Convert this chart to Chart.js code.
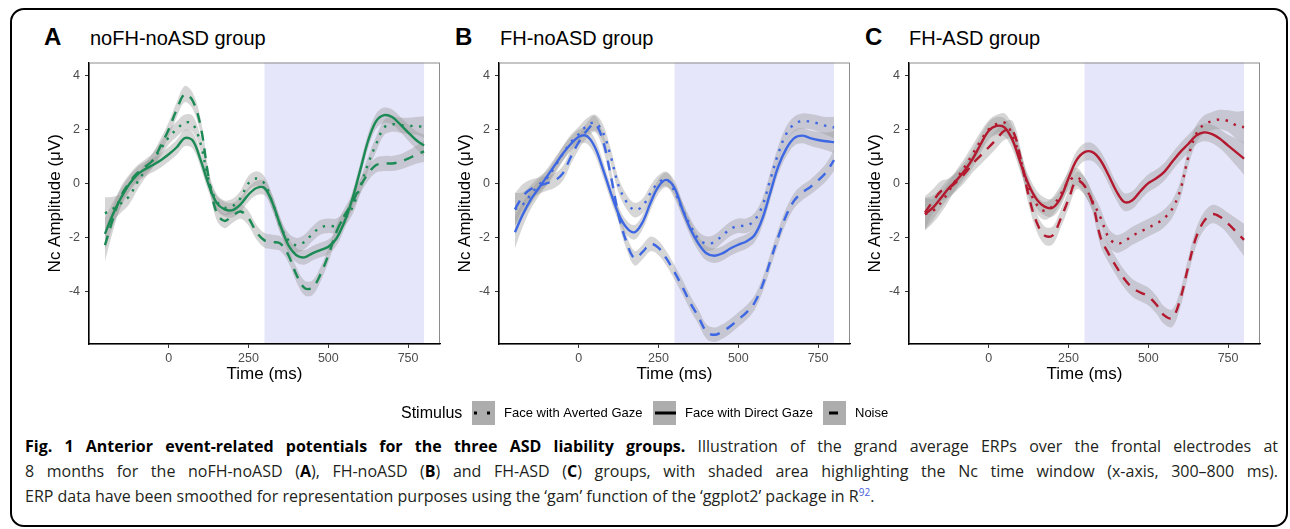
<!DOCTYPE html>
<html>
<head>
<meta charset="utf-8">
<script src="https://cdn.jsdelivr.net/npm/chart.js@4.4.1/dist/chart.umd.min.js"></script>
<style>
  html, body { margin: 0; padding: 0; background: #fff; }
  body { width: 1290px; height: 529px; position: relative; overflow: hidden;
         font-family: 'Liberation Sans', Arial, sans-serif; }
  .frame { position: absolute; left: 10px; top: 8px; width: 1278px; height: 519px;
           border: 2.5px solid #000; border-radius: 14px; box-sizing: border-box; }
  canvas { position: absolute; }
  .tag { position: absolute; top: 25px; font-size: 24px; line-height: 24px; font-weight: bold; }
  .ttl { position: absolute; top: 28px; font-size: 20px; line-height: 20px; }
  .cap { position: absolute; left: 25px; font-family: 'Open Sans', sans-serif; font-size: 16px;
         line-height: 25px; white-space: nowrap; color: #231f20; }
  .cap b { color: #000; }
  .cap sup { color: #4a5fe0; font-size: 10px; line-height: 0; }
</style>
</head>
<body>
<div class="frame"></div>

<div class="tag" style="left:44px">A</div><div class="ttl" style="left:90px">noFH-noASD group</div>
<div class="tag" style="left:455px">B</div><div class="ttl" style="left:500px">FH-noASD group</div>
<div class="tag" style="left:865px">C</div><div class="ttl" style="left:909px">FH-ASD group</div>

<canvas id="panelA" width="399" height="335" style="left:45px;top:50px"></canvas>
<canvas id="panelB" width="399" height="335" style="left:455px;top:50px"></canvas>
<canvas id="panelC" width="399" height="335" style="left:865px;top:50px"></canvas>
<canvas id="legend" width="520" height="36" style="left:390px;top:395px"></canvas>

<div class="cap just" style="top:434px"><b>Fig. 1 Anterior event-related potentials for the three ASD liability groups.</b> Illustration of the grand average ERPs over the frontal electrodes at</div>
<div class="cap just" style="top:459px">8 months for the noFH-noASD (<b>A</b>), FH-noASD (<b>B</b>) and FH-ASD (<b>C</b>) groups, with shaded area highlighting the Nc time window (x-axis, 300–800 ms).</div>
<div class="cap" style="top:484px">ERP data have been smoothed for representation purposes using the ‘gam’ function of the ‘ggplot2’ package in R<sup>92</sup>.</div>

<script>
// time points (ms), read every 25 ms off the figure
const times = [-200, -175, -150, -125, -100, -75, -50, -25, 0, 25, 50, 75, 100, 125, 150, 175, 200,
  225, 250, 275, 300, 325, 350, 375, 400, 425, 450, 475, 500, 525, 550, 575, 600, 625, 650, 675,
  700, 725, 750, 775, 800];

const xTicks = [0, 250, 500, 750];
const yTicks = [-4, -2, 0, 2, 4];
const ncWindow = [300, 800];
const stimuli = ['Face with Averted Gaze', 'Face with Direct Gaze', 'Noise'];

// noFH-noASD
const avertedA = [-1.12, -0.95, -0.75, -0.5, 0.0, 0.45, 0.85, 1.27, 1.7, 2.0, 2.24, 2.2, 1.45, 0.12,
  -0.67, -0.91, -0.85, -0.55, 0.0, 0.17, -0.02, -0.73, -1.58, -2.12, -2.3, -2.18, -1.88, -1.64,
  -1.58, -1.58, -1.33, -0.91, -0.12, 0.73, 1.45, 2.06, 2.18, 2.15, 2.12, 2.12, 2.08];
const directA = [-1.88, -1.15, -0.55, -0.06, 0.3, 0.51, 0.67, 0.85, 1.07, 1.33, 1.67, 1.58, 0.85,
  -0.06, -0.73, -0.97, -1.0, -0.79, -0.42, -0.18, -0.18, -0.73, -1.58, -2.3, -2.67, -2.75, -2.6,
  -2.48, -2.36, -2.06, -1.45, -0.6, 0.48, 1.58, 2.3, 2.52, 2.45, 2.18, 1.88, 1.6, 1.39];
const noiseA = [-2.3, -1.33, -0.48, 0.0, 0.36, 0.6, 0.85, 1.39, 2.0, 2.73, 3.3, 3.05, 2.1, 0.2,
  -1.1, -1.4, -1.2, -1.05, -1.3, -1.82, -2.12, -2.18, -2.24, -2.67, -3.39, -3.88, -3.88, -3.39,
  -2.67, -1.82, -1.21, -0.73, -0.12, 0.36, 0.67, 0.73, 0.73, 0.79, 0.91, 1.05, 1.18];
const seA = [0.6, 0.45, 0.35, 0.3, 0.28, 0.27, 0.27, 0.27, 0.27, 0.28, 0.3, 0.3, 0.28, 0.27, 0.27,
  0.27, 0.27, 0.27, 0.27, 0.27, 0.27, 0.27, 0.27, 0.27, 0.27, 0.27, 0.27, 0.27, 0.27, 0.27, 0.27,
  0.27, 0.27, 0.27, 0.28, 0.28, 0.28, 0.28, 0.3, 0.33, 0.4];

// FH-noASD
const avertedB = [-0.97, -0.79, -0.42, -0.06, 0.18, 0.61, 1.09, 1.52, 1.82, 2.12, 2.24, 1.9, 1.0,
  -0.1, -0.7, -1.0, -0.85, -0.36, 0.02, 0.15, -0.3, -0.97, -1.58, -2.06, -2.24, -2.18, -1.94, -1.7,
  -1.58, -1.58, -1.39, -0.85, 0.12, 1.09, 1.82, 2.18, 2.3, 2.28, 2.21, 2.12, 2.06];
const directB = [-1.82, -1.15, -0.6, -0.18, 0.24, 0.67, 1.09, 1.45, 1.72, 1.75, 1.35, 0.55, -0.35,
  -1.15, -1.65, -1.82, -1.45, -0.73, -0.12, 0.12, -0.18, -0.97, -1.7, -2.24, -2.6, -2.69, -2.6,
  -2.42, -2.28, -2.16, -1.94, -1.33, -0.36, 0.61, 1.27, 1.67, 1.76, 1.67, 1.6, 1.55, 1.52];
const noiseB = [-0.97, -0.48, -0.22, -0.1, 0.0, 0.1, 0.36, 0.97, 1.52, 1.94, 2.2, 1.6, 0.3, -1.2,
  -2.2, -2.78, -2.55, -2.25, -2.4, -2.8, -3.3, -3.85, -4.45, -4.95, -5.5, -5.62, -5.5, -5.3, -5.05,
  -4.8, -4.45, -3.8, -2.9, -2.0, -1.2, -0.65, -0.35, -0.15, 0.1, 0.4, 0.85];
const seB = [0.6, 0.45, 0.35, 0.3, 0.28, 0.27, 0.27, 0.27, 0.27, 0.28, 0.3, 0.3, 0.28, 0.27, 0.27,
  0.27, 0.27, 0.27, 0.27, 0.27, 0.27, 0.27, 0.27, 0.27, 0.27, 0.27, 0.27, 0.27, 0.27, 0.27, 0.27,
  0.27, 0.27, 0.27, 0.28, 0.28, 0.28, 0.28, 0.3, 0.33, 0.4];

// FH-ASD
const avertedC = [-1.15, -1.03, -0.73, -0.3, 0.18, 0.61, 1.09, 1.58, 2.0, 2.2, 2.24, 1.76, 0.85,
  -0.18, -0.79, -1.03, -0.85, -0.42, 0.06, 0.24, -0.1, -0.67, -1.27, -2.0, -2.25, -2.15, -1.95,
  -1.8, -1.65, -1.5, -1.3, -0.95, -0.27, 0.95, 1.82, 2.18, 2.3, 2.36, 2.3, 2.15, 2.07];
const directC = [-1.15, -0.91, -0.55, -0.18, 0.12, 0.48, 0.91, 1.45, 1.94, 2.12, 2.06, 1.58, 0.73,
  -0.06, -0.6, -0.87, -0.91, -0.55, 0.18, 0.85, 1.15, 1.15, 0.85, 0.3, -0.3, -0.7, -0.63, -0.3,
  0.0, 0.18, 0.42, 0.79, 1.15, 1.45, 1.76, 1.88, 1.82, 1.64, 1.39, 1.15, 0.91];
const noiseC = [-1.09, -0.67, -0.3, -0.18, 0.06, 0.36, 0.73, 1.03, 1.33, 1.64, 1.95, 1.95, 0.9,
  -0.48, -1.45, -1.94, -1.94, -1.33, -0.6, 0.1, -0.1, -0.73, -2.0, -2.6, -3.1, -3.55, -3.88, -4.05,
  -4.2, -4.5, -4.9, -5.0, -4.3, -3.1, -2.0, -1.4, -1.15, -1.25, -1.5, -1.8, -2.1];
const seC = [0.6, 0.45, 0.38, 0.35, 0.33, 0.33, 0.33, 0.33, 0.33, 0.33, 0.34, 0.35, 0.35, 0.33,
  0.33, 0.33, 0.33, 0.33, 0.33, 0.33, 0.33, 0.33, 0.33, 0.33, 0.33, 0.33, 0.33, 0.33, 0.33, 0.33,
  0.33, 0.33, 0.33, 0.33, 0.33, 0.33, 0.34, 0.36, 0.4, 0.5, 0.6];

const DOTTED = [2.4, 6.5];
const DASHED = [10, 8];
const RIBBON = 'rgba(153,153,153,0.4)';
const TENSION = 0.35;

Chart.defaults.font.family = "'Liberation Sans', Arial, sans-serif";

// shaded Nc window + grey panel border, drawn under axes and data
const backdrop = {
  id: 'backdrop',
  beforeDraw(chart) {
    const { ctx, chartArea: a, scales: { x } } = chart;
    const x0 = x.getPixelForValue(ncWindow[0]);
    const x1 = x.getPixelForValue(ncWindow[1]);
    ctx.save();
    ctx.fillStyle = '#E6E6FA';
    ctx.fillRect(x0, a.top, x1 - x0, a.bottom - a.top);
    ctx.strokeStyle = '#8c8c8c';
    ctx.lineWidth = 1;
    ctx.strokeRect(a.left + 0.5, a.top + 0.5, a.right - a.left - 1, a.bottom - a.top);
    ctx.restore();
  }
};

function points(vals, off, sign) {
  return times.map((t, i) => ({ x: t, y: vals[i] + (off ? sign * off[i] : 0) }));
}

function buildDatasets(seriesList, se, color) {
  const sets = [];
  seriesList.forEach(s => {
    sets.push({ data: points(s.values, se, 1), borderWidth: 0, pointRadius: 0, fill: false,
      tension: TENSION, order: 2 });
    sets.push({ data: points(s.values, se, -1), borderWidth: 0, pointRadius: 0, fill: '-1',
      backgroundColor: RIBBON, tension: TENSION, order: 2 });
  });
  seriesList.forEach(s => {
    sets.push({ label: s.label, data: points(s.values), borderColor: color, borderWidth: 2.4,
      borderDash: s.dash, borderCapStyle: 'butt', pointRadius: 0, fill: false,
      tension: TENSION, order: 0 });
  });
  return sets;
}

function makePanel(id, seriesList, se, color) {
  new Chart(document.getElementById(id), {
    type: 'line',
    data: { datasets: buildDatasets(seriesList, se, color) },
    options: {
      responsive: false,
      animation: false,
      devicePixelRatio: 1,
      layout: { padding: { top: 7, right: 4, left: 0, bottom: 0 } },
      plugins: { legend: { display: false }, tooltip: { enabled: false } },
      scales: {
        x: {
          type: 'linear', min: -250, max: 850,
          afterBuildTicks: s => { s.ticks = xTicks.map(v => ({ value: v })); },
          afterFit: s => { s.height = 41; },
          grid: { drawOnChartArea: false, drawTicks: true, tickLength: 4, color: '#333' },
          border: { display: true, color: '#000', width: 1.3 },
          ticks: { color: '#4d4d4d', font: { size: 12.5 }, padding: 3, maxRotation: 0, autoSkip: false },
          title: { display: true, text: 'Time (ms)', color: '#000', font: { size: 17 }, padding: 0 }
        },
        y: {
          type: 'linear', min: -5.96, max: 4.47,
          afterBuildTicks: s => { s.ticks = yTicks.map(v => ({ value: v })); },
          afterFit: s => { s.width = 44; },
          grid: { drawOnChartArea: false, drawTicks: true, tickLength: 4, color: '#333' },
          border: { display: true, color: '#000', width: 1.3 },
          ticks: { color: '#4d4d4d', font: { size: 12.5 }, padding: 5 },
          title: { display: true, text: 'Nc Amplitude (\u03BCV)', color: '#000', font: { size: 17 }, padding: 0 }
        }
      }
    },
    plugins: [backdrop]
  });
}

makePanel('panelA', [
  { label: stimuli[0], values: avertedA, dash: DOTTED },
  { label: stimuli[1], values: directA, dash: [] },
  { label: stimuli[2], values: noiseA, dash: DASHED }
], seA, '#1b8a55');

makePanel('panelB', [
  { label: stimuli[0], values: avertedB, dash: DOTTED },
  { label: stimuli[1], values: directB, dash: [] },
  { label: stimuli[2], values: noiseB, dash: DASHED }
], seB, '#3d67e3');

makePanel('panelC', [
  { label: stimuli[0], values: avertedC, dash: DOTTED },
  { label: stimuli[1], values: directC, dash: [] },
  { label: stimuli[2], values: noiseC, dash: DASHED }
], seC, '#b3192f');

// shared legend (offset 390,395 on the page)
(function drawLegend() {
  const ctx = document.getElementById('legend').getContext('2d');
  ctx.fillStyle = '#000';
  ctx.font = "16px 'Liberation Sans', Arial, sans-serif";
  ctx.fillText('Stimulus', 11, 23);
  const keys = [
    { x: 82, dash: [3, 10], from: 84, to: 104, label: stimuli[0], lx: 114 },
    { x: 263, dash: [], from: 265, to: 286, label: stimuli[1], lx: 295 },
    { x: 433, dash: [9, 30], from: 439, to: 449, label: stimuli[2], lx: 465 }
  ];
  keys.forEach(k => {
    ctx.fillStyle = '#adadad';
    ctx.fillRect(k.x, 6, 23, 24);
    ctx.strokeStyle = '#000';
    ctx.lineWidth = 3;
    ctx.setLineDash(k.dash);
    ctx.beginPath();
    ctx.moveTo(k.from, 18);
    ctx.lineTo(k.to, 18);
    ctx.stroke();
    ctx.setLineDash([]);
    ctx.fillStyle = '#000';
    ctx.font = "13px 'Liberation Sans', Arial, sans-serif";
    ctx.fillText(k.label, k.lx, 22);
  });
})();

// justify the first two caption lines to the column width
function justify() {
  document.querySelectorAll('.cap.just').forEach(el => {
    el.style.wordSpacing = '0px';
    const w = el.getBoundingClientRect().width;
    const gaps = (el.textContent.match(/ /g) || []).length;
    el.style.wordSpacing = ((1253 - w) / gaps) + 'px';
  });
}
justify();
if (document.fonts && document.fonts.ready) document.fonts.ready.then(justify);
</script>
</body>
</html>
